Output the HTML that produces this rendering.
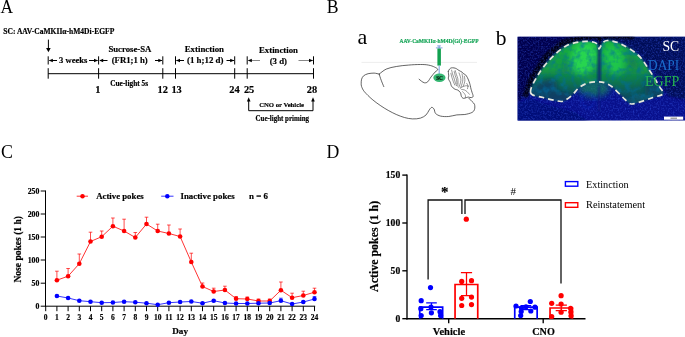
<!DOCTYPE html>
<html><head><meta charset="utf-8"><title>Figure</title>
<style>
html,body{margin:0;padding:0;background:#fff;}
body{width:685px;height:337px;overflow:hidden;font-family:"Liberation Serif",serif;}
svg{display:block;will-change:transform;}
text{font-family:"Liberation Serif",serif;}
.b{font-weight:bold;stroke-width:0.18px;}
</style></head><body>
<svg width="685" height="337" viewBox="0 0 685 337">
<defs>
<filter id="bl3" x="-20%" y="-20%" width="140%" height="140%"><feGaussianBlur stdDeviation="3"/></filter>
<filter id="bl5" x="-30%" y="-30%" width="160%" height="160%"><feGaussianBlur stdDeviation="5"/></filter>
<filter id="bl2" x="-20%" y="-20%" width="140%" height="140%"><feGaussianBlur stdDeviation="1.6"/></filter>
<filter id="bl1" x="-20%" y="-20%" width="140%" height="140%"><feGaussianBlur stdDeviation="0.8"/></filter>
<filter id="dnoise" x="0" y="0" width="100%" height="100%">
<feTurbulence type="fractalNoise" baseFrequency="0.16" numOctaves="3" seed="11" result="n"/>
<feColorMatrix type="matrix" values="0 0 0 0 0  0 0 0 0 0.15  0 0 0 0 0.35  0 0 0 2.8 -1.15"/>
</filter>
<filter id="noise" x="0" y="0" width="100%" height="100%">
<feTurbulence type="fractalNoise" baseFrequency="0.6" numOctaves="2" seed="3" result="n"/>
<feColorMatrix type="matrix" values="0 0 0 0 0.04  0 0 0 0 0.1  0 0 0 0 0.8  0 0 0 2.2 -0.95"/>
</filter>
<clipPath id="imgclip"><rect x="517.6" y="36.8" width="168" height="83.8"/></clipPath>
</defs>
<rect width="685" height="337" fill="#fff"/>

<text x="0.5" y="12.7" font-size="19" textLength="12.6" lengthAdjust="spacingAndGlyphs">A</text>
<text x="326.8" y="12.7" font-size="19" textLength="11.8" lengthAdjust="spacingAndGlyphs">B</text>
<text x="1.1" y="158.3" font-size="19" textLength="11.9" lengthAdjust="spacingAndGlyphs">C</text>
<text x="326.5" y="158.1" font-size="19" textLength="12.8" lengthAdjust="spacingAndGlyphs">D</text>
<g id="pA" stroke="#000" stroke-width="1" fill="none">
<path d="M48.2 73.7H313.5"/>
<path d="M48.2 68.2V78.7"/>
<path d="M98.6 68.2V78.7"/>
<path d="M162.8 68.2V78.7"/>
<path d="M175.5 68.2V78.7"/>
<path d="M234.7 68.2V78.7"/>
<path d="M247.2 68.2V78.7"/>
<path d="M313.5 68.2V78.7"/>
<path d="M48.2 56.3V64.5"/>
<path d="M98.6 56.3V64.5"/>
<path d="M162.8 56.3V64.5"/>
<path d="M175.5 56.3V64.5"/>
<path d="M234.7 56.3V64.5"/>
<path d="M247.2 56.3V64.5M313.5 56.3V64.5"/>
<path d="M48.4 39.6V49"/>
<path d="M49.5 60.5H57M89 60.5H97.5M100 60.5H107.5M155 60.5H162"/>
<path d="M176.5 60.5H184M226.5 60.5H234"/>
<path d="M248.5 60.5H260M298.5 60.5H313" stroke="#555" stroke-width="0.7"/>
<path d="M248.7 100V110.7H313V100"/>
</g>
<g fill="#000">
<path d="M48.4 52.2L46.1 48H50.7z"/>
<path d="M48.8 60.5L52.8 58.7V62.3z"/>
<path d="M98 60.5L94 58.7V62.3z"/>
<path d="M99.2 60.5L103.2 58.7V62.3z"/>
<path d="M162.3 60.5L158.3 58.7V62.3z"/>
<path d="M176 60.5L180 58.7V62.3z"/>
<path d="M234.2 60.5L230.2 58.7V62.3z"/>
<path d="M247.8 60.5L251.8 58.7V62.3z"/>
<path d="M313 60.5L309 58.7V62.3z"/>
<path d="M248.7 97.3L246.9 101.5H250.5z"/><path d="M313 97.3L311.2 101.5H314.8z"/>
</g>
<text x="3.3" y="34" font-size="7.6" class="b" textLength="111" lengthAdjust="spacingAndGlyphs" stroke="#000">SC: AAV-CaMKII&#945;-hM4Di-EGFP</text>
<text x="108.4" y="52.2" font-size="9.2" class="b" textLength="43" lengthAdjust="spacingAndGlyphs" stroke="#000">Sucrose-SA</text>
<text x="59" y="62.9" font-size="9.2" class="b" textLength="28.4" lengthAdjust="spacingAndGlyphs" stroke="#000">3 weeks</text>
<text x="111.7" y="62.9" font-size="9.2" class="b" textLength="36" lengthAdjust="spacingAndGlyphs" stroke="#000">(FR1;1 h)</text>
<text x="184.7" y="51.7" font-size="9.2" class="b" textLength="39.3" lengthAdjust="spacingAndGlyphs" stroke="#000">Extinction</text>
<text x="187" y="62.9" font-size="9.2" class="b" textLength="36.5" lengthAdjust="spacingAndGlyphs" stroke="#000">(1 h;12 d)</text>
<text x="259" y="53" font-size="9.2" class="b" textLength="39" lengthAdjust="spacingAndGlyphs" stroke="#000">Extinction</text>
<text x="269.7" y="63.5" font-size="9.2" class="b" textLength="17.3" lengthAdjust="spacingAndGlyphs" stroke="#000">(3 d)</text>
<text x="110.2" y="86.2" font-size="7.3" class="b" textLength="37.9" lengthAdjust="spacingAndGlyphs" stroke="#000">Cue-light 5s</text>
<text x="97.75" y="92.6" font-size="10.4" class="b" text-anchor="middle" stroke="#000">1</text>
<text x="162.7" y="92.6" font-size="10.4" class="b" text-anchor="middle" stroke="#000">12</text>
<text x="176.6" y="92.6" font-size="10.4" class="b" text-anchor="middle" stroke="#000">13</text>
<text x="234.4" y="92.6" font-size="10.4" class="b" text-anchor="middle" stroke="#000">24</text>
<text x="249.1" y="92.6" font-size="10.4" class="b" text-anchor="middle" stroke="#000">25</text>
<text x="311.9" y="92.6" font-size="10.4" class="b" text-anchor="middle" stroke="#000">28</text>
<text x="259.2" y="107" font-size="7.0" class="b" textLength="44.8" lengthAdjust="spacingAndGlyphs" stroke="#000">CNO or Vehicle</text>
<text x="255.5" y="121.2" font-size="7.4" class="b" textLength="53.5" lengthAdjust="spacingAndGlyphs" stroke="#000">Cue-light priming</text>
<text x="357.4" y="44.2" font-size="22" class="">a</text>
<text x="495.8" y="44.6" font-size="21.5" class="">b</text>
<text x="399.5" y="43" font-size="5.5" class="b" textLength="79" lengthAdjust="spacingAndGlyphs" fill="#17a558" stroke="#17a558">AAV-CaMKII&#945;-hM4D(Gi)-EGFP</text>
<path d="M361.5 62.4H477" stroke="#e0e0e0" stroke-width="0.6"/>
<g stroke="#222" stroke-width="0.7" fill="none" stroke-linecap="round" stroke-linejoin="round">
<path d="M379.2 74.1C378.3 74.0 376.0 73.2 374.1 73.1C372.3 73.1 369.8 73.3 368.1 73.7C366.3 74.2 364.7 74.9 363.6 75.8C362.6 76.7 362.0 77.9 361.6 79.2C361.2 80.4 361.2 82.0 361.2 83.2C361.2 84.5 361.1 85.2 361.6 86.6C362.2 88.1 362.7 89.6 364.4 91.7C366.2 93.8 369.5 97.1 372.1 99.3C374.7 101.6 377.5 103.5 380.2 105.4C382.8 107.2 385.5 108.9 388.2 110.4C390.9 111.9 393.6 113.3 396.3 114.5C399.0 115.6 401.7 116.8 404.4 117.5C407.0 118.2 409.7 118.8 412.4 118.9C415.1 119.0 418.2 118.8 420.5 118.1C422.8 117.4 424.7 116.2 426.1 114.9C427.6 113.5 428.2 111.3 429.2 110.0C430.1 108.8 430.8 107.6 431.6 107.4C432.4 107.2 433.3 108.0 434.0 109.0C434.7 110.0 434.5 112.3 435.6 113.5C436.7 114.6 438.5 115.6 440.6 116.1C442.8 116.6 446.0 116.7 448.7 116.5C451.4 116.3 454.1 115.2 456.8 114.9C459.5 114.5 462.3 114.9 464.8 114.5C467.4 114.1 470.3 113.3 471.9 112.5C473.5 111.6 474.1 110.8 474.5 109.4C475.0 108.1 474.9 105.7 474.5 104.4C474.1 103.1 473.0 102.6 472.1 101.6C471.2 100.6 469.4 98.9 468.9 98.3"/>
<path d="M379.2 74.1C379.5 75.2 380.4 78.1 381.2 80.2C381.9 82.3 383.4 85.6 383.8 86.6"/>
<path d="M379.2 74.1C380.3 73.3 383.4 70.4 386.2 69.1C389.1 67.8 392.6 67.2 396.3 66.5C400.0 65.8 404.4 65.4 408.4 65.1C412.4 64.7 417.1 64.5 420.5 64.5C423.8 64.5 426.2 64.6 428.5 65.1C430.9 65.5 433.1 66.3 434.6 67.1C436.1 67.8 437.8 68.7 437.8 69.5C437.9 70.3 436.1 70.9 435.0 72.1C433.9 73.4 432.2 75.4 431.0 77.0C429.8 78.6 428.8 80.8 427.7 81.8C426.7 82.8 425.6 82.9 424.5 82.8C423.5 82.7 422.4 81.8 421.5 81.2C420.6 80.6 419.5 79.5 419.1 79.2"/>
<path d="M448.3 71.3C448.5 70.9 449.0 69.7 449.5 69.1C450.0 68.6 450.5 68.1 451.3 67.9C452.0 67.7 453.1 67.8 454.0 67.9C454.9 68.1 455.8 68.3 456.6 68.8C457.4 69.2 458.1 70.0 459.0 70.5C459.9 71.1 461.2 71.5 462.0 72.1C462.7 72.6 463.1 73.4 463.7 73.9C464.3 74.3 464.9 74.2 465.5 74.8C466.1 75.4 466.8 76.6 467.3 77.4C467.8 78.3 468.1 79.1 468.5 80.0C468.9 81.0 469.4 82.4 469.7 83.4C470.0 84.3 470.0 84.7 470.3 85.7C470.5 86.7 470.8 88.2 471.1 89.3C471.4 90.4 471.7 91.1 472.0 92.3C472.4 93.5 473.3 95.5 473.1 96.4C473.0 97.3 471.9 97.5 471.1 97.6C470.3 97.7 469.2 97.2 468.5 97.1C467.8 97.1 467.4 97.3 466.7 97.5C466.0 97.7 465.0 98.2 464.3 98.3C463.7 98.4 463.3 98.4 462.8 98.1C462.3 97.8 461.7 97.1 461.4 96.4C461.0 95.7 461.1 94.7 460.9 94.0C460.7 93.4 460.7 92.9 460.2 92.3C459.7 91.6 458.6 90.6 457.8 90.1C457.0 89.6 456.0 89.7 455.2 89.3C454.4 88.9 453.7 88.5 453.1 87.9C452.4 87.3 451.7 86.5 451.3 85.7C450.9 85.0 450.9 84.2 450.7 83.6C450.5 83.0 450.4 82.6 450.1 81.9C449.8 81.3 449.1 80.5 448.8 79.8C448.5 79.2 448.3 78.7 448.3 78.0C448.3 77.4 448.7 76.7 448.8 76.0C448.8 75.3 448.6 74.7 448.5 73.9C448.5 73.1 448.3 71.7 448.3 71.3"/>
<g stroke-width="0.5" stroke="#333">
<path d="M451.6 70.1C451.8 70.7 452.1 72.5 452.5 73.9C452.9 75.2 453.6 76.6 454.0 78.0C454.5 79.4 454.8 80.9 455.2 82.2C455.6 83.5 456.4 85.1 456.6 85.7"/>
<path d="M450.9 73.3C451.1 74.0 451.5 76.0 451.9 77.4C452.3 78.8 452.8 80.3 453.3 81.6C453.8 82.9 454.6 84.6 454.8 85.1"/>
<path d="M455.2 70.5C455.4 71.2 455.9 73.1 456.4 74.5C456.8 75.8 457.5 77.2 457.8 78.6C458.1 80.0 458.0 81.5 458.0 82.8C458.0 84.1 457.8 85.7 457.8 86.3"/>
<path d="M454.2 71.5C454.4 72.2 454.8 74.3 455.2 75.6C455.6 77.0 456.3 78.4 456.6 79.8C456.9 81.2 456.8 83.3 456.9 84.0"/>
<path d="M459.0 72.9C459.2 73.6 460.1 75.6 460.4 76.8C460.7 78.1 461.0 79.1 460.9 80.4C460.8 81.7 460.3 83.4 459.9 84.6C459.6 85.7 459.0 87.0 458.8 87.5"/>
<path d="M462.0 73.9C462.1 74.6 462.7 76.7 462.8 78.0C462.9 79.3 462.8 80.3 462.6 81.6C462.3 82.9 461.7 84.6 461.4 85.7C461.0 86.9 460.6 87.9 460.4 88.4"/>
<path d="M464.3 76.2C464.4 76.8 464.9 78.6 464.9 79.8C464.9 81.0 464.6 82.3 464.3 83.4C464.0 84.5 463.3 85.8 463.1 86.3"/>
<path d="M461.1 87.5C461.6 87.3 462.9 86.6 463.7 86.3C464.6 86.0 465.5 85.7 466.4 85.7C467.2 85.7 468.3 86.2 468.7 86.3"/>
<path d="M461.6 89.5C462.1 89.6 463.4 89.5 464.3 89.9C465.2 90.2 466.2 90.9 467.1 91.7C467.9 92.4 469.0 93.8 469.4 94.3"/>
<path d="M462.6 91.7C462.8 92.0 463.8 92.8 464.3 93.5C464.8 94.1 465.4 95.1 465.5 95.8C465.7 96.5 465.2 97.3 465.2 97.6"/>
<path d="M466.7 83.4C466.9 83.8 467.8 84.8 467.9 85.7C468.0 86.6 467.6 88.2 467.5 88.7"/>
</g>
</g>
<path d="M437.2 45.9H440.8M435.9 47.9H442.5M439.1 45.9V48.5" stroke="#4a78d0" stroke-width="0.7" fill="none"/>
<rect x="437.4" y="48.5" width="3.5" height="17.1" fill="#12a150"/>
<path d="M438.6 65.6H439.8V74H438.6z" fill="#8fb0e6"/>
<ellipse cx="439.4" cy="77.8" rx="6.1" ry="4.2" fill="#35b772"/>
<text x="439.5" y="79.6" font-size="5.2" class="b" text-anchor="middle" fill="#06150c" stroke="#06150c">SC</text>
<clipPath id="tis"><path d="M530.5 92.5C529.7 88.8 534.7 80.6 538.0 75.0C541.3 69.4 545.9 63.5 550.5 58.8C555.1 54.0 560.5 49.1 565.5 46.2C570.5 43.4 575.9 42.5 580.5 41.8C585.1 41.0 590.1 41.5 593.0 42.0C595.9 42.5 597.0 43.9 598.0 45.0C599.0 46.1 598.4 49.2 599.2 48.8C600.1 48.3 601.5 43.9 603.0 42.5C604.5 41.1 605.1 40.3 608.0 40.5C610.9 40.7 615.5 41.3 620.5 43.8C625.5 46.2 633.2 50.6 638.0 55.0C642.8 59.4 645.7 64.8 649.2 70.0C652.8 75.2 657.0 82.3 659.2 86.2C661.5 90.2 664.0 91.9 663.0 93.8C662.0 95.6 657.2 96.0 653.0 97.5C648.8 99.0 641.8 101.5 638.0 102.5C634.2 103.5 633.0 104.6 630.5 103.8C628.0 102.9 625.9 100.2 623.0 97.5C620.1 94.8 615.9 89.9 613.0 87.5C610.1 85.1 608.0 84.0 605.5 83.0C603.0 82.0 600.9 81.8 598.0 81.8C595.1 81.8 591.1 82.0 588.0 83.0C584.9 84.0 582.0 85.4 579.2 87.5C576.5 89.6 574.5 93.2 571.8 95.5C569.0 97.8 565.7 100.4 563.0 101.2C560.3 102.1 558.8 101.1 555.5 100.5C552.2 99.9 547.2 98.8 543.0 97.5C538.8 96.2 531.3 96.2 530.5 92.5"/></clipPath>
<g clip-path="url(#imgclip)">
<rect x="517" y="36" width="169" height="86" fill="#08108c"/>
<g filter="url(#bl2)">
<path d="M517 36H600L566 44L548 56L534 74L524 96L517 104z" fill="#03064e"/>
<path d="M600 36H686V100L668 96L654 72L640 54L620 42z" fill="#040858"/>
<path d="M517 104L530 98L545 104L560 108L575 112L590 122H517z" fill="#060c78"/>
</g>
<g filter="url(#bl1)" fill="none" stroke="#000008">
<path d="M525 97L532 78L546 57L562 43.5L580 37.5L600 36.5" stroke-width="5.5" opacity="0.95"/>
<path d="M600 36.5H634" stroke-width="5"/>
<path d="M596 36L599.5 48L603 36z" fill="#000008" stroke="none"/>
</g>
<rect x="517" y="36" width="169" height="86" filter="url(#noise)" opacity="0.5"/>
<ellipse cx="594" cy="88" rx="16" ry="9" fill="#128a58" opacity="0.7" filter="url(#bl3)"/>
<linearGradient id="tg" gradientUnits="userSpaceOnUse" x1="0" y1="40" x2="0" y2="104"><stop offset="0" stop-color="#1ab040"/><stop offset="0.45" stop-color="#149a44"/><stop offset="0.75" stop-color="#0c6454"/><stop offset="1" stop-color="#083868"/></linearGradient>
<path d="M530.5 92.5C529.7 88.8 534.7 80.6 538.0 75.0C541.3 69.4 545.9 63.5 550.5 58.8C555.1 54.0 560.5 49.1 565.5 46.2C570.5 43.4 575.9 42.5 580.5 41.8C585.1 41.0 590.1 41.5 593.0 42.0C595.9 42.5 597.0 43.9 598.0 45.0C599.0 46.1 598.4 49.2 599.2 48.8C600.1 48.3 601.5 43.9 603.0 42.5C604.5 41.1 605.1 40.3 608.0 40.5C610.9 40.7 615.5 41.3 620.5 43.8C625.5 46.2 633.2 50.6 638.0 55.0C642.8 59.4 645.7 64.8 649.2 70.0C652.8 75.2 657.0 82.3 659.2 86.2C661.5 90.2 664.0 91.9 663.0 93.8C662.0 95.6 657.2 96.0 653.0 97.5C648.8 99.0 641.8 101.5 638.0 102.5C634.2 103.5 633.0 104.6 630.5 103.8C628.0 102.9 625.9 100.2 623.0 97.5C620.1 94.8 615.9 89.9 613.0 87.5C610.1 85.1 608.0 84.0 605.5 83.0C603.0 82.0 600.9 81.8 598.0 81.8C595.1 81.8 591.1 82.0 588.0 83.0C584.9 84.0 582.0 85.4 579.2 87.5C576.5 89.6 574.5 93.2 571.8 95.5C569.0 97.8 565.7 100.4 563.0 101.2C560.3 102.1 558.8 101.1 555.5 100.5C552.2 99.9 547.2 98.8 543.0 97.5C538.8 96.2 531.3 96.2 530.5 92.5" fill="url(#tg)" filter="url(#bl1)"/>
<g clip-path="url(#tis)"><g filter="url(#bl3)">
<ellipse cx="584" cy="58" rx="13" ry="17" fill="#28d850" opacity="0.95" transform="rotate(15 584 58)"/>
<ellipse cx="614" cy="60" rx="10" ry="15" fill="#22cc4c" opacity="0.85" transform="rotate(-15 614 60)"/>
<ellipse cx="592" cy="86" rx="10" ry="6" fill="#1ea850" opacity="0.9"/>
<ellipse cx="543" cy="90" rx="16" ry="9" fill="#0a4064" opacity="0.95" transform="rotate(-30 543 90)"/>
<ellipse cx="560" cy="97" rx="12" ry="5" fill="#0a3c66" opacity="0.9"/>
<ellipse cx="654" cy="88" rx="9" ry="12" fill="#0a4060" opacity="0.95" transform="rotate(-30 654 88)"/>
<ellipse cx="640" cy="99" rx="12" ry="5" fill="#0e5a60" opacity="0.8" transform="rotate(-10 640 99)"/>
<ellipse cx="632" cy="62" rx="4" ry="10" fill="#0e6a58" opacity="0.6" transform="rotate(-30 632 62)"/>
<ellipse cx="566" cy="68" rx="4" ry="9" fill="#0e7a58" opacity="0.5" transform="rotate(10 566 68)"/>
</g></g>
<rect x="517" y="36" width="169" height="86" filter="url(#dnoise)" clip-path="url(#tis)" opacity="0.55"/>
<path d="M597.8 45H600.8L601 82H597.4z" fill="#082a70" opacity="0.9" filter="url(#bl1)"/>
<g filter="url(#bl1)" fill="none" stroke="#1838d8" stroke-width="0.9" opacity="0.8">
<ellipse cx="588" cy="100.5" rx="6.5" ry="7.5"/>
<path d="M598.6 86H599.4V112H598.6z" stroke="#0a1880"/>
</g>
<path d="M530.5 92.5C529.7 88.8 534.7 80.6 538.0 75.0C541.3 69.4 545.9 63.5 550.5 58.8C555.1 54.0 560.5 49.1 565.5 46.2C570.5 43.4 575.9 42.5 580.5 41.8C585.1 41.0 590.1 41.5 593.0 42.0C595.9 42.5 597.0 43.9 598.0 45.0C599.0 46.1 598.4 49.2 599.2 48.8C600.1 48.3 601.5 43.9 603.0 42.5C604.5 41.1 605.1 40.3 608.0 40.5C610.9 40.7 615.5 41.3 620.5 43.8C625.5 46.2 633.2 50.6 638.0 55.0C642.8 59.4 645.7 64.8 649.2 70.0C652.8 75.2 657.0 82.3 659.2 86.2C661.5 90.2 664.0 91.9 663.0 93.8C662.0 95.6 657.2 96.0 653.0 97.5C648.8 99.0 641.8 101.5 638.0 102.5C634.2 103.5 633.0 104.6 630.5 103.8C628.0 102.9 625.9 100.2 623.0 97.5C620.1 94.8 615.9 89.9 613.0 87.5C610.1 85.1 608.0 84.0 605.5 83.0C603.0 82.0 600.9 81.8 598.0 81.8C595.1 81.8 591.1 82.0 588.0 83.0C584.9 84.0 582.0 85.4 579.2 87.5C576.5 89.6 574.5 93.2 571.8 95.5C569.0 97.8 565.7 100.4 563.0 101.2C560.3 102.1 558.8 101.1 555.5 100.5C552.2 99.9 547.2 98.8 543.0 97.5C538.8 96.2 531.3 96.2 530.5 92.5" fill="none" stroke="#e6e6dc" stroke-width="1.7" stroke-dasharray="5.6 4" stroke-linecap="butt"/>
<rect x="664" y="116.6" width="19.2" height="3.1" fill="#fff"/>
<rect x="670.5" y="117.7" width="6.5" height="0.9" fill="#666"/>
</g>
<text x="662.5" y="51.3" font-size="14" class="" textLength="16.7" lengthAdjust="spacingAndGlyphs" fill="#fff">SC</text>
<text x="648" y="69.6" font-size="14" class="" textLength="31.2" lengthAdjust="spacingAndGlyphs" fill="#1a6ccc">DAPI</text>
<text x="645" y="86.3" font-size="14" class="" textLength="34.2" lengthAdjust="spacingAndGlyphs" fill="#24b650">EGFP</text>
<g stroke="#000" stroke-width="1" fill="none">
<path d="M45.5 190.5V306.7"/>
<path d="M45 306.2H315.2"/>
<path d="M40.7 191H45.5"/>
<path d="M40.7 214H45.5"/>
<path d="M40.7 237H45.5"/>
<path d="M40.7 260H45.5"/>
<path d="M40.7 283.2H45.5"/>
<path d="M40.7 306.2H45.5"/>
<path d="M45.7 306.2V311.2"/>
<path d="M56.9 306.2V311.2"/>
<path d="M68.1 306.2V311.2"/>
<path d="M79.3 306.2V311.2"/>
<path d="M90.5 306.2V311.2"/>
<path d="M101.7 306.2V311.2"/>
<path d="M112.9 306.2V311.2"/>
<path d="M124.1 306.2V311.2"/>
<path d="M135.3 306.2V311.2"/>
<path d="M146.5 306.2V311.2"/>
<path d="M157.7 306.2V311.2"/>
<path d="M168.9 306.2V311.2"/>
<path d="M180.1 306.2V311.2"/>
<path d="M191.3 306.2V311.2"/>
<path d="M202.5 306.2V311.2"/>
<path d="M213.7 306.2V311.2"/>
<path d="M224.9 306.2V311.2"/>
<path d="M236.1 306.2V311.2"/>
<path d="M247.3 306.2V311.2"/>
<path d="M258.5 306.2V311.2"/>
<path d="M269.7 306.2V311.2"/>
<path d="M280.9 306.2V311.2"/>
<path d="M292.1 306.2V311.2"/>
<path d="M303.3 306.2V311.2"/>
<path d="M314.5 306.2V311.2"/>
</g>
<text x="39.4" y="193.8" font-size="7.8" class="b" text-anchor="end" stroke="#000">250</text>
<text x="39.4" y="216.8" font-size="7.8" class="b" text-anchor="end" stroke="#000">200</text>
<text x="39.4" y="239.8" font-size="7.8" class="b" text-anchor="end" stroke="#000">150</text>
<text x="39.4" y="262.8" font-size="7.8" class="b" text-anchor="end" stroke="#000">100</text>
<text x="39.4" y="286.0" font-size="7.8" class="b" text-anchor="end" stroke="#000">50</text>
<text x="39.4" y="309.0" font-size="7.8" class="b" text-anchor="end" stroke="#000">0</text>
<text x="45.7" y="320.1" font-size="7.5" class="b" text-anchor="middle" stroke="#000">0</text>
<text x="56.9" y="320.1" font-size="7.5" class="b" text-anchor="middle" stroke="#000">1</text>
<text x="68.1" y="320.1" font-size="7.5" class="b" text-anchor="middle" stroke="#000">2</text>
<text x="79.3" y="320.1" font-size="7.5" class="b" text-anchor="middle" stroke="#000">3</text>
<text x="90.5" y="320.1" font-size="7.5" class="b" text-anchor="middle" stroke="#000">4</text>
<text x="101.7" y="320.1" font-size="7.5" class="b" text-anchor="middle" stroke="#000">5</text>
<text x="112.9" y="320.1" font-size="7.5" class="b" text-anchor="middle" stroke="#000">6</text>
<text x="124.1" y="320.1" font-size="7.5" class="b" text-anchor="middle" stroke="#000">7</text>
<text x="135.3" y="320.1" font-size="7.5" class="b" text-anchor="middle" stroke="#000">8</text>
<text x="146.5" y="320.1" font-size="7.5" class="b" text-anchor="middle" stroke="#000">9</text>
<text x="157.7" y="320.1" font-size="7.5" class="b" text-anchor="middle" stroke="#000">10</text>
<text x="168.9" y="320.1" font-size="7.5" class="b" text-anchor="middle" stroke="#000">11</text>
<text x="180.1" y="320.1" font-size="7.5" class="b" text-anchor="middle" stroke="#000">12</text>
<text x="191.3" y="320.1" font-size="7.5" class="b" text-anchor="middle" stroke="#000">13</text>
<text x="202.5" y="320.1" font-size="7.5" class="b" text-anchor="middle" stroke="#000">14</text>
<text x="213.7" y="320.1" font-size="7.5" class="b" text-anchor="middle" stroke="#000">15</text>
<text x="224.9" y="320.1" font-size="7.5" class="b" text-anchor="middle" stroke="#000">16</text>
<text x="236.1" y="320.1" font-size="7.5" class="b" text-anchor="middle" stroke="#000">17</text>
<text x="247.3" y="320.1" font-size="7.5" class="b" text-anchor="middle" stroke="#000">18</text>
<text x="258.5" y="320.1" font-size="7.5" class="b" text-anchor="middle" stroke="#000">19</text>
<text x="269.7" y="320.1" font-size="7.5" class="b" text-anchor="middle" stroke="#000">20</text>
<text x="280.9" y="320.1" font-size="7.5" class="b" text-anchor="middle" stroke="#000">21</text>
<text x="292.1" y="320.1" font-size="7.5" class="b" text-anchor="middle" stroke="#000">22</text>
<text x="303.3" y="320.1" font-size="7.5" class="b" text-anchor="middle" stroke="#000">23</text>
<text x="314.5" y="320.1" font-size="7.5" class="b" text-anchor="middle" stroke="#000">24</text>
<text x="172.2" y="334" font-size="9.2" class="b" textLength="15.8" lengthAdjust="spacingAndGlyphs" stroke="#000">Day</text>
<text transform="translate(20.9 249.3) rotate(-90)" font-size="9.4" class="b" stroke="#000" text-anchor="middle" textLength="66.6" lengthAdjust="spacingAndGlyphs">Nose pokes (1 h)</text>
<path d="M76.7 196.2H88" stroke="#f00" stroke-width="0.8"/><circle cx="82.5" cy="196.2" r="2.25" fill="#f00"/>
<path d="M161.2 196.2H173.5" stroke="#00f" stroke-width="0.8"/><circle cx="167.3" cy="196.2" r="2.25" fill="#00f"/>
<text x="96.2" y="199" font-size="9" class="b" textLength="47.5" lengthAdjust="spacingAndGlyphs" stroke="#000">Active pokes</text>
<text x="180.5" y="199" font-size="9" class="b" textLength="54.2" lengthAdjust="spacingAndGlyphs" stroke="#000">Inactive pokes</text>
<text x="249" y="199" font-size="9" class="b" textLength="19" lengthAdjust="spacingAndGlyphs" stroke="#000">n = 6</text>
<path d="M56.9 280.2 L68.1 276.2 L79.3 263.7 L90.5 241.5 L101.7 236.7 L112.9 226.2 L124.1 231 L135.3 237.5 L146.5 224 L157.7 231 L168.9 233.5 L180.1 236.5 L191.3 262 L202.5 286.5 L213.7 291.5 L224.9 290 L236.1 298.7 L247.3 299 L258.5 301 L269.7 301 L280.9 290.2 L292.1 297.7 L303.3 295.5 L314.5 292.2" stroke="#f00" stroke-width="0.8" fill="none"/>
<path d="M56.9 280.2V271.2M55.1 271.2H58.7M68.1 276.2V268.5M66.3 268.5H69.9M79.3 263.7V254M77.5 254H81.1M90.5 241.5V232.2M88.7 232.2H92.3M101.7 236.7V231M99.9 231H103.5M112.9 226.2V218M111.1 218H114.7M124.1 231V219.2M122.3 219.2H125.9M135.3 237.5V232.5M133.5 232.5H137.1M146.5 224V217.2M144.7 217.2H148.3M157.7 231V224.2M155.9 224.2H159.5M168.9 233.5V225M167.1 225H170.7M180.1 236.5V229M178.3 229H181.9M191.3 262V253.2M189.5 253.2H193.1M202.5 286.5V283M200.7 283H204.3M213.7 291.5V288.2M211.9 288.2H215.5M224.9 290V286.2M223.1 286.2H226.7M236.1 298.7V296.5M234.3 296.5H237.9M247.3 299V297M245.5 297H249.1M258.5 301V299M256.7 299H260.3M269.7 301V299M267.9 299H271.5M280.9 290.2V282M279.1 282H282.7M292.1 297.7V293.2M290.3 293.2H293.9M303.3 295.5V291.2M301.5 291.2H305.1M314.5 292.2V288.2M312.7 288.2H316.3" stroke="#f00" stroke-width="0.7" fill="none"/>
<circle cx="56.9" cy="280.2" r="2.3" fill="#f00"/>
<circle cx="68.1" cy="276.2" r="2.3" fill="#f00"/>
<circle cx="79.3" cy="263.7" r="2.3" fill="#f00"/>
<circle cx="90.5" cy="241.5" r="2.3" fill="#f00"/>
<circle cx="101.7" cy="236.7" r="2.3" fill="#f00"/>
<circle cx="112.9" cy="226.2" r="2.3" fill="#f00"/>
<circle cx="124.1" cy="231" r="2.3" fill="#f00"/>
<circle cx="135.3" cy="237.5" r="2.3" fill="#f00"/>
<circle cx="146.5" cy="224" r="2.3" fill="#f00"/>
<circle cx="157.7" cy="231" r="2.3" fill="#f00"/>
<circle cx="168.9" cy="233.5" r="2.3" fill="#f00"/>
<circle cx="180.1" cy="236.5" r="2.3" fill="#f00"/>
<circle cx="191.3" cy="262" r="2.3" fill="#f00"/>
<circle cx="202.5" cy="286.5" r="2.3" fill="#f00"/>
<circle cx="213.7" cy="291.5" r="2.3" fill="#f00"/>
<circle cx="224.9" cy="290" r="2.3" fill="#f00"/>
<circle cx="236.1" cy="298.7" r="2.3" fill="#f00"/>
<circle cx="247.3" cy="299" r="2.3" fill="#f00"/>
<circle cx="258.5" cy="301" r="2.3" fill="#f00"/>
<circle cx="269.7" cy="301" r="2.3" fill="#f00"/>
<circle cx="280.9" cy="290.2" r="2.3" fill="#f00"/>
<circle cx="292.1" cy="297.7" r="2.3" fill="#f00"/>
<circle cx="303.3" cy="295.5" r="2.3" fill="#f00"/>
<circle cx="314.5" cy="292.2" r="2.3" fill="#f00"/>
<path d="M56.9 296 L68.1 298 L79.3 300.7 L90.5 301.7 L101.7 302.7 L112.9 302.5 L124.1 301.7 L135.3 302.2 L146.5 303.2 L157.7 304.7 L168.9 302.7 L180.1 302 L191.3 301.5 L202.5 303.2 L213.7 300.7 L224.9 303 L236.1 303.5 L247.3 303.5 L258.5 303.2 L269.7 303 L280.9 300.7 L292.1 304 L303.3 302 L314.5 299" stroke="#00f" stroke-width="0.8" fill="none"/>
<path d="M280.9 300.7V298.2M279.1 298.2H282.7M314.5 299V296.5M312.7 296.5H316.3" stroke="#00f" stroke-width="0.7" fill="none"/>
<circle cx="56.9" cy="296" r="2.3" fill="#00f"/>
<circle cx="68.1" cy="298" r="2.3" fill="#00f"/>
<circle cx="79.3" cy="300.7" r="2.3" fill="#00f"/>
<circle cx="90.5" cy="301.7" r="2.3" fill="#00f"/>
<circle cx="101.7" cy="302.7" r="2.3" fill="#00f"/>
<circle cx="112.9" cy="302.5" r="2.3" fill="#00f"/>
<circle cx="124.1" cy="301.7" r="2.3" fill="#00f"/>
<circle cx="135.3" cy="302.2" r="2.3" fill="#00f"/>
<circle cx="146.5" cy="303.2" r="2.3" fill="#00f"/>
<circle cx="157.7" cy="304.7" r="2.3" fill="#00f"/>
<circle cx="168.9" cy="302.7" r="2.3" fill="#00f"/>
<circle cx="180.1" cy="302" r="2.3" fill="#00f"/>
<circle cx="191.3" cy="301.5" r="2.3" fill="#00f"/>
<circle cx="202.5" cy="303.2" r="2.3" fill="#00f"/>
<circle cx="213.7" cy="300.7" r="2.3" fill="#00f"/>
<circle cx="224.9" cy="303" r="2.3" fill="#00f"/>
<circle cx="236.1" cy="303.5" r="2.3" fill="#00f"/>
<circle cx="247.3" cy="303.5" r="2.3" fill="#00f"/>
<circle cx="258.5" cy="303.2" r="2.3" fill="#00f"/>
<circle cx="269.7" cy="303" r="2.3" fill="#00f"/>
<circle cx="280.9" cy="300.7" r="2.3" fill="#00f"/>
<circle cx="292.1" cy="304" r="2.3" fill="#00f"/>
<circle cx="303.3" cy="302" r="2.3" fill="#00f"/>
<circle cx="314.5" cy="299" r="2.3" fill="#00f"/>
<g stroke="#000" stroke-width="1.35" fill="none">
<path d="M407 174.4V319.4"/>
<path d="M406.4 318.7H585.5"/>
<path d="M402.3 175.1H407"/>
<path d="M402.3 223H407"/>
<path d="M402.3 270.8H407"/>
<path d="M402.3 318.7H407"/>
<path d="M448.7 318.7V323.2M543.2 318.7V323.2"/>
</g>
<text x="400.2" y="178.4" font-size="9.6" class="b" text-anchor="end" stroke="#000">150</text>
<text x="400.2" y="226.3" font-size="9.6" class="b" text-anchor="end" stroke="#000">100</text>
<text x="400.2" y="274.1" font-size="9.6" class="b" text-anchor="end" stroke="#000">50</text>
<text x="400.2" y="322.0" font-size="9.6" class="b" text-anchor="end" stroke="#000">0</text>
<g stroke="#111" stroke-width="1.3" fill="none">
<path d="M428.1 279.5V200H461.9V213.9"/>
<path d="M465 213.9V200H561V283.5"/>
</g>
<text x="444.7" y="196.7" font-size="15" class="b" text-anchor="middle" stroke="#000">*</text>
<text x="513.3" y="194.7" font-size="11" class="" text-anchor="middle">#</text>
<text transform="translate(377.8 246.4) rotate(-90)" font-size="11.8" class="b" stroke="#000" text-anchor="middle" textLength="91" lengthAdjust="spacingAndGlyphs">Active pokes (1 h)</text>
<text x="432.8" y="334.7" font-size="10.3" class="b" textLength="32.3" lengthAdjust="spacingAndGlyphs" stroke="#000">Vehicle</text>
<text x="532.3" y="334.7" font-size="10.3" class="b" textLength="22.5" lengthAdjust="spacingAndGlyphs" stroke="#000">CNO</text>
<rect x="565.4" y="181.6" width="12.4" height="4.6" fill="none" stroke="#00f" stroke-width="1.4"/>
<rect x="565.4" y="202.7" width="12.4" height="4.6" fill="none" stroke="#f00" stroke-width="1.4"/>
<text x="586" y="187.5" font-size="10.3" class="" textLength="42.7" lengthAdjust="spacingAndGlyphs">Extinction</text>
<text x="586" y="208" font-size="10.3" class="" textLength="59" lengthAdjust="spacingAndGlyphs">Reinstatement</text>
<path d="M419.75 318.7V307.2H442.65V318.7" fill="none" stroke="#00f" stroke-width="1.7"/>
<path d="M431.5 302.9V309.7M426.2 302.9H436.8M426.2 309.7H436.8" fill="none" stroke="#00f" stroke-width="1.25"/>
<path d="M455.05 318.7V284.5H477.75V318.7" fill="none" stroke="#f00" stroke-width="1.7"/>
<path d="M466.5 272.6V295.6M460.9 272.6H472.1M460.9 295.6H472.1" fill="none" stroke="#f00" stroke-width="1.25"/>
<path d="M514.75 318.7V307.2H537.15V318.7" fill="none" stroke="#00f" stroke-width="1.7"/>
<path d="M525.9 305.5V309.6M520.6 305.5H531.1999999999999M520.6 309.6H531.1999999999999" fill="none" stroke="#00f" stroke-width="1.25"/>
<path d="M550.05 318.7V308H572.45V318.7" fill="none" stroke="#f00" stroke-width="1.7"/>
<path d="M561.3 305V310.6M555.6999999999999 305H566.9M555.6999999999999 310.6H566.9" fill="none" stroke="#f00" stroke-width="1.25"/>
<circle cx="430.5" cy="287.6" r="2.6" fill="#00f"/>
<circle cx="421.2" cy="300.7" r="2.6" fill="#00f"/>
<circle cx="431" cy="307" r="2.6" fill="#00f"/>
<circle cx="420.8" cy="308.7" r="2.6" fill="#00f"/>
<circle cx="431.4" cy="312.8" r="2.6" fill="#00f"/>
<circle cx="440" cy="311.7" r="2.6" fill="#00f"/>
<circle cx="421.2" cy="315.6" r="2.6" fill="#00f"/>
<circle cx="440.6" cy="315.6" r="2.6" fill="#00f"/>
<circle cx="516" cy="306" r="2.6" fill="#00f"/>
<circle cx="521.4" cy="308" r="2.6" fill="#00f"/>
<circle cx="526" cy="306.8" r="2.6" fill="#00f"/>
<circle cx="530.3" cy="301.5" r="2.6" fill="#00f"/>
<circle cx="535" cy="307.2" r="2.6" fill="#00f"/>
<circle cx="530.8" cy="311" r="2.6" fill="#00f"/>
<circle cx="520.7" cy="315.6" r="2.6" fill="#00f"/>
<circle cx="521.2" cy="311.5" r="2.6" fill="#00f"/>
<circle cx="461.7" cy="281.4" r="2.6" fill="#f00"/>
<circle cx="471.5" cy="280.7" r="2.6" fill="#f00"/>
<circle cx="461.7" cy="298.3" r="2.6" fill="#f00"/>
<circle cx="471.5" cy="297.1" r="2.6" fill="#f00"/>
<circle cx="461.7" cy="305.5" r="2.6" fill="#f00"/>
<circle cx="471.5" cy="304.6" r="2.6" fill="#f00"/>
<circle cx="466.3" cy="219.2" r="2.6" fill="#f00"/>
<circle cx="561.1" cy="295.7" r="2.6" fill="#f00"/>
<circle cx="551.7" cy="303.3" r="2.6" fill="#f00"/>
<circle cx="561.1" cy="304" r="2.6" fill="#f00"/>
<circle cx="570.6" cy="308.3" r="2.6" fill="#f00"/>
<circle cx="561.1" cy="312.2" r="2.6" fill="#f00"/>
<circle cx="551.7" cy="316.5" r="2.6" fill="#f00"/>
<circle cx="571" cy="315.8" r="2.6" fill="#f00"/>
<circle cx="570.8" cy="312" r="2.6" fill="#f00"/>
</svg></body></html>
